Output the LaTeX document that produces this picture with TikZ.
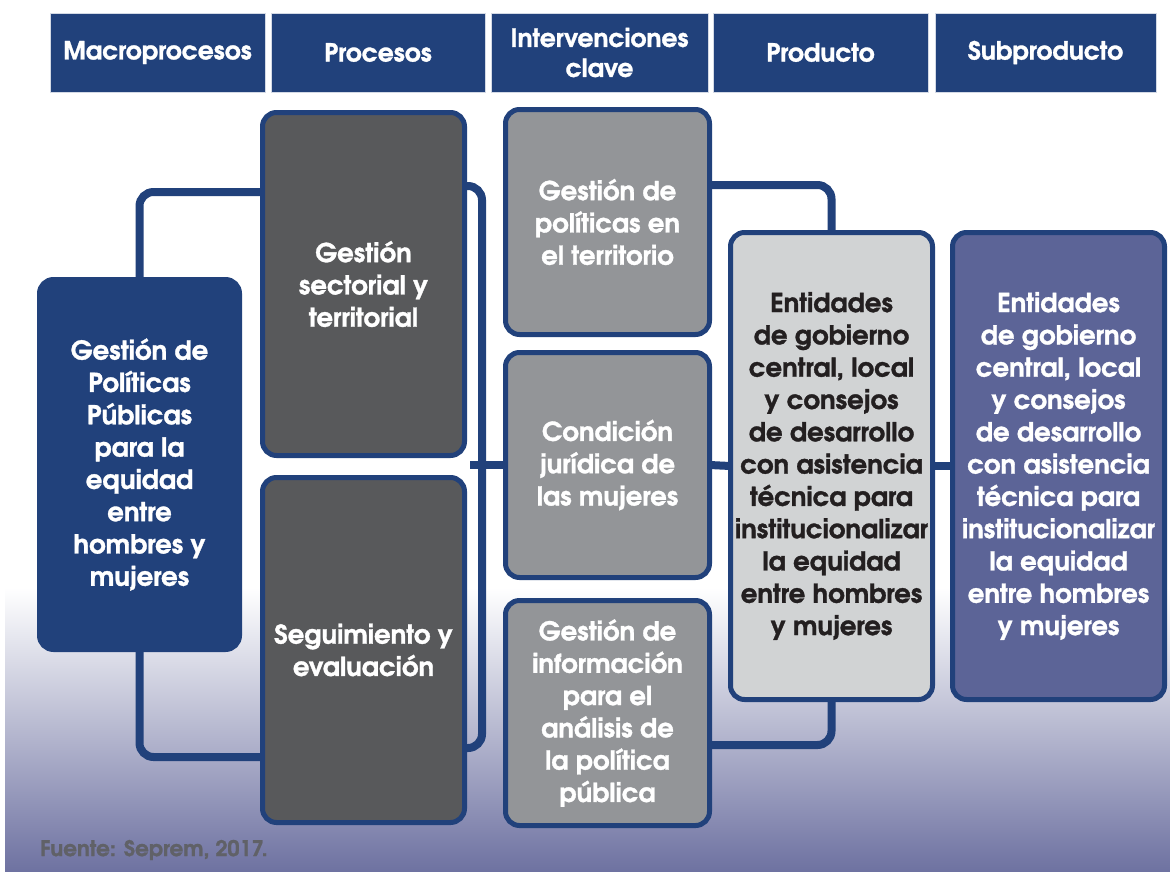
\documentclass[tikz,border=0pt]{standalone}
\usepackage{fontspec}
\setmainfont{texgyreadventor}[Extension=.otf,UprightFont=*-regular,BoldFont=*-bold,ItalicFont=*-italic,BoldItalicFont=*-bolditalic,BoldFeatures={FakeBold=1.2}]
\definecolor{navy}{HTML}{21417B}
\definecolor{dgrey}{HTML}{58595B}
\definecolor{mgrey}{HTML}{939598}
\definecolor{lgrey}{HTML}{D1D3D4}
\definecolor{slate}{HTML}{5C6497}
\definecolor{bgbot}{HTML}{6E72A1}
\definecolor{fuentec}{HTML}{606167}
\definecolor{ink}{HTML}{231F20}
\tikzset{
  hdr/.style={fill=navy, draw=white!80!navy, line width=0.8pt, text=white, align=center,
    font=\bfseries\fontsize{25}{30}\selectfont, inner sep=0pt},
  box/.style={draw=navy, line width=5pt, rounded corners=14pt, inner sep=0pt, align=center,
    font=\bfseries\fontsize{26}{32.3}\selectfont},
  conn/.style={draw=navy, line width=8pt, rounded corners=14pt},
}
\begin{document}
\begin{tikzpicture}[x=1pt,y=-1pt]
\useasboundingbox (0,0) rectangle (1170,871);
\fill[white] (0,0) rectangle (1170,871);
\shade[top color=white, bottom color=bgbot] (5,588) rectangle (1170,871);

% headers
\node[hdr, minimum width=215, minimum height=79] (h1) at (157.5,52.5) {Macroprocesos};
\node[hdr, minimum width=214, minimum height=79] (h2) at (378,52.5) {Procesos};
\node[hdr, minimum width=217, minimum height=79] (h3) at (599.5,52.5) {Intervenciones\\clave};
\node[hdr, minimum width=215, minimum height=79] (h4) at (820.5,52.5) {Producto};
\node[hdr, minimum width=221, minimum height=79] (h5) at (1045.5,52.5) {Subproducto};

% junction coordinates
\coordinate (mt) at (140,192);
\coordinate (mb) at (140,757);
\coordinate (b1) at (467,186);
\coordinate (bt) at (482,186);
\coordinate (bb) at (482,748);
\coordinate (b2) at (467,748);
\coordinate (bm) at (470,465);
\coordinate (i1r) at (712,185);
\coordinate (i3r) at (712,745);

% box placeholders (for connector anchors)
\path node[minimum width=200, minimum height=370] (macro) at (139.5,464.5) {};
\path node[minimum width=202, minimum height=343] (p1) at (363.5,284) {};
\path node[minimum width=202, minimum height=345] (p2) at (363.5,650) {};
\path node[minimum width=204, minimum height=225] (i1) at (607.5,222) {};
\path node[minimum width=204, minimum height=225] (i2) at (607.5,465) {};
\path node[minimum width=204, minimum height=225] (i3) at (607.5,713) {};
\path node[minimum width=202, minimum height=467] (prod) at (831.5,466) {};
\path node[minimum width=212, minimum height=467] (sub) at (1058.5,466) {};

% connectors
\draw[conn] (macro.north) |- (p1.west |- mt);
\draw[conn] (macro.south) |- (p2.west |- mb);
\draw[conn] (b1) -- (bt) -- (bb) -- (b2);
\draw[conn] (bm) -- (i2.west);
\draw[conn] (i1r) -| (prod.north);
\draw[conn] (i3r) -| (prod.south);
\draw[conn] (i2.east) -- (prod.west);
\draw[conn] (prod.east) -- (sub.west);

% boxes
\node[box, fill=navy, draw=navy, text=white, minimum width=200, minimum height=370] at (macro)
  {Gestión de\\Políticas\\Públicas\\para la\\equidad\\entre\\hombres y\\mujeres};
\node[box, fill=dgrey, text=white, minimum width=202, minimum height=343] at (p1)
  {Gestión\\sectorial y\\territorial};
\node[box, fill=dgrey, text=white, minimum width=202, minimum height=345] at (p2)
  {Seguimiento y\\evaluación};
\node[box, fill=mgrey, text=white, minimum width=204, minimum height=225] at (i1)
  {Gestión de\\políticas en\\el territorio};
\node[box, fill=mgrey, text=white, minimum width=204, minimum height=225] at (i2)
  {Condición\\jurídica de\\las mujeres};
\node[box, fill=mgrey, text=white, minimum width=204, minimum height=225] at (i3)
  {Gestión de\\información\\para el\\análisis de\\la política\\pública};
\node[box, fill=lgrey, text=ink, minimum width=202, minimum height=467] at (prod)
  {Entidades\\de gobierno\\central, local\\y consejos\\de desarrollo\\con asistencia\\técnica para\\institucionalizar\\la equidad\\entre hombres\\y mujeres};
\node[box, fill=slate, text=white, minimum width=212, minimum height=467] at (sub)
  {Entidades\\de gobierno\\central, local\\y consejos\\de desarrollo\\con asistencia\\técnica para\\institucionalizar\\la equidad\\entre hombres\\y mujeres};

\node[anchor=west, text=fuentec, font=\bfseries\fontsize{21.5}{24}\selectfont, inner sep=0pt] (src) at (40,850) {Fuente: Seprem, 2017.};
\end{tikzpicture}
\end{document}
